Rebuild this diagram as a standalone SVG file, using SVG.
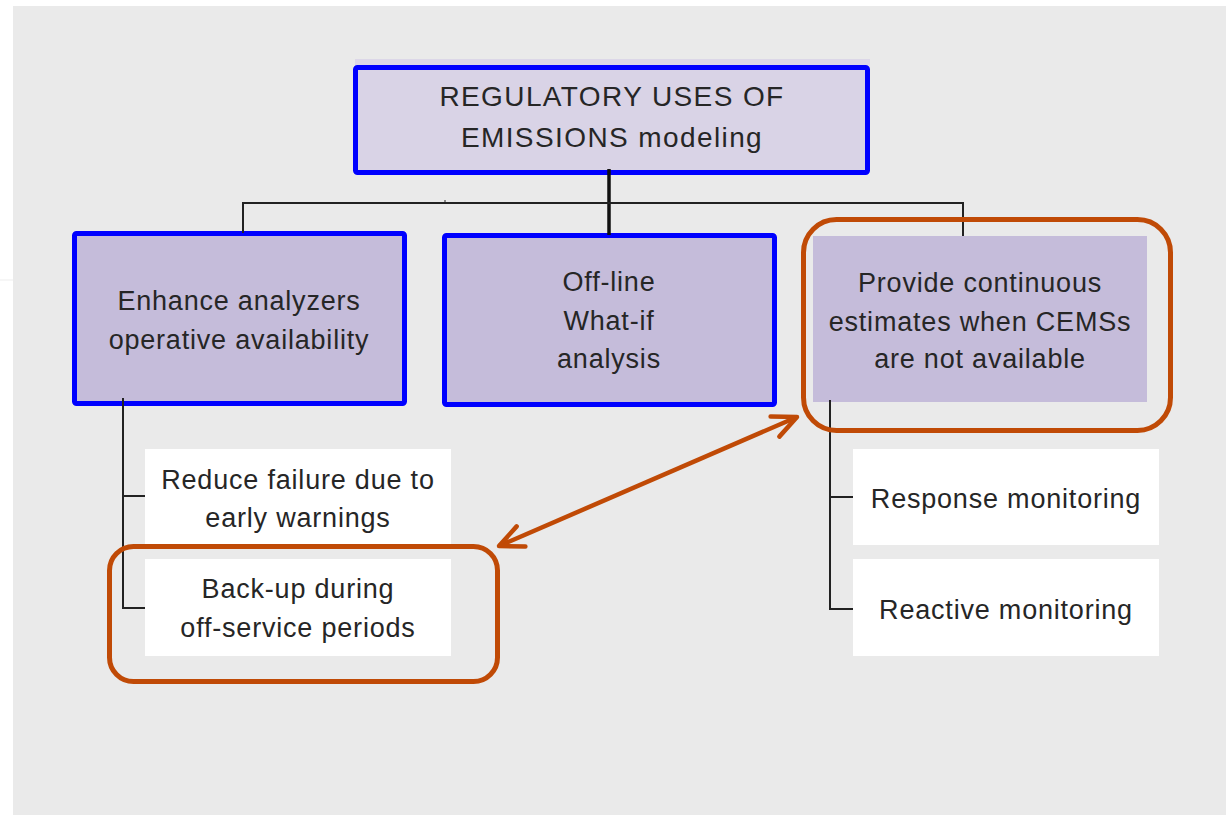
<svg xmlns="http://www.w3.org/2000/svg" width="1226" height="815" viewBox="0 0 1226 815">
  <defs>
    <style>
      .txt { font-family: "Liberation Sans", Arial, Helvetica, sans-serif; font-size: 27px; fill: #262626; text-anchor: middle; letter-spacing: 0.8px; }
      .title { font-size: 28px; letter-spacing: 1.4px; }
      .blue { stroke: #0000FF; stroke-width: 5; }
      .lav { fill: #C5BCDA; }
      .white { fill: #FFFFFF; }
      .wire { fill: none; stroke: #222222; stroke-width: 2; }
      .hl { fill: none; stroke: #C04A06; stroke-width: 5; }
    </style>
    <marker id="chev" viewBox="-30 -16 36 32" refX="0" refY="0" markerWidth="36" markerHeight="32" markerUnits="userSpaceOnUse" orient="auto-start-reverse">
      <path d="M-24,-11 L0,0 L-24,11" fill="none" stroke="#C04A06" stroke-width="4.5" stroke-linecap="round" stroke-linejoin="round"/>
    </marker>
  </defs>

  <!-- page background -->
  <rect x="0" y="0" width="1226" height="815" fill="#FFFFFF"/>
  <rect x="13" y="6" width="1213" height="809" fill="#EAEAEA"/>
  <line x1="0" y1="280" x2="13" y2="280" stroke="#EDEDED" stroke-width="1"/>

  <!-- root -->
  <g id="root">
    <rect x="355" y="59" width="515" height="112" fill="#DCD7E8"/>
    <rect x="355.5" y="67.5" width="512" height="105" rx="2" fill="#D9D3E6" class="blue"/>
    <text class="txt title" x="612" y="106">REGULATORY USES OF</text>
    <text class="txt title" x="612" y="147">EMISSIONS modeling</text>
  </g>

  <g id="enhance">
    <rect x="74.5" y="233.5" width="330" height="170" rx="2" class="lav blue"/>
    <text class="txt" x="239" y="310">Enhance analyzers</text>
    <text class="txt" x="239" y="349">operative availability</text>
  </g>

  <g id="offline">
    <rect x="444.5" y="235.5" width="330" height="169" rx="2" class="lav blue"/>
    <text class="txt" x="609" y="291">Off-line</text>
    <text class="txt" x="609" y="330">What-if</text>
    <text class="txt" x="609" y="368">analysis</text>
  </g>

  <g id="continuous">
    <rect x="813" y="236" width="334" height="166" class="lav"/>
    <text class="txt" x="980" y="292">Provide continuous</text>
    <text class="txt" x="980" y="331">estimates when CEMSs</text>
    <text class="txt" x="980" y="368">are not available</text>
  </g>

  <g id="reduce">
    <rect x="145" y="449" width="306" height="99" class="white"/>
    <text class="txt" x="298" y="489">Reduce failure due to</text>
    <text class="txt" x="298" y="527">early warnings</text>
  </g>

  <g id="backup">
    <rect x="145" y="559" width="306" height="97" class="white"/>
    <text class="txt" x="298" y="598">Back-up during</text>
    <text class="txt" x="298" y="637">off-service periods</text>
  </g>

  <g id="response">
    <rect x="853" y="449" width="306" height="96" class="white"/>
    <text class="txt" x="1006" y="508">Response monitoring</text>
  </g>

  <g id="reactive">
    <rect x="853" y="559" width="306" height="97" class="white"/>
    <text class="txt" x="1006" y="619">Reactive monitoring</text>
  </g>

  <!-- tree connectors -->
  <g id="connectors">
    <line x1="609" y1="169" x2="609" y2="235" stroke="#111111" stroke-width="3.5"/>
    <polyline class="wire" points="243,233 243,203 963,203 963,236"/>
    <line x1="445" y1="200" x2="445" y2="203" stroke="#222222" stroke-width="1"/>
    <polyline class="wire" points="123,398 123,608 145,608"/>
    <line class="wire" x1="123" y1="496" x2="145" y2="496"/>
    <polyline class="wire" points="830,400 830,609 853,609"/>
    <line class="wire" x1="830" y1="497" x2="853" y2="497"/>
  </g>

  <!-- highlight frames and link -->
  <g id="highlights">
    <rect class="hl" x="803.5" y="219.5" width="367" height="211" rx="33"/>
    <rect class="hl" x="109.5" y="546.5" width="388" height="135" rx="24"/>
    <line x1="499" y1="546" x2="797" y2="417" stroke="#C04A06" stroke-width="4.5" marker-start="url(#chev)" marker-end="url(#chev)"/>
  </g>
</svg>
